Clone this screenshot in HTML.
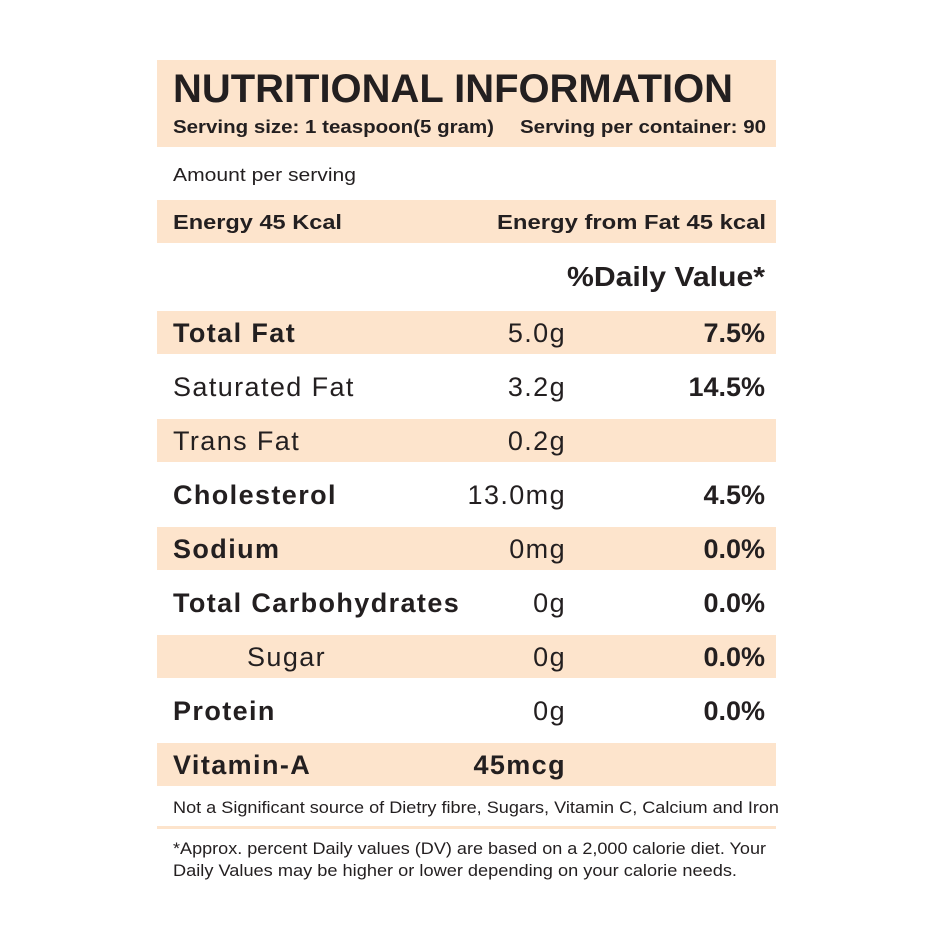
<!DOCTYPE html>
<html><head><meta charset="utf-8"><style>
html,body{margin:0;padding:0;background:#fff;width:940px;height:940px;overflow:hidden}
svg{display:block}
text{font-family:"Liberation Sans",sans-serif;fill:#231f20}
.b{font-weight:bold}
</style></head><body>
<svg id="chart" width="940" height="940" viewBox="0 0 940 940" xmlns="http://www.w3.org/2000/svg">
<rect x="157" y="60" width="619" height="87" fill="#fde4cc"/>
<text class="b" x="173" y="102" font-size="40" textLength="560" lengthAdjust="spacingAndGlyphs">NUTRITIONAL INFORMATION</text>
<text class="b" x="173" y="133" font-size="18" textLength="321" lengthAdjust="spacingAndGlyphs">Serving size: 1 teaspoon(5 gram)</text>
<text class="b" x="520" y="133" font-size="18" textLength="246" lengthAdjust="spacingAndGlyphs">Serving per container: 90</text>
<text x="173" y="181" font-size="18" textLength="183" lengthAdjust="spacingAndGlyphs">Amount per serving</text>
<rect x="157" y="200" width="619" height="43" fill="#fde4cc"/>
<text class="b" x="173" y="229" font-size="20" textLength="169" lengthAdjust="spacingAndGlyphs">Energy 45 Kcal</text>
<text class="b" x="497" y="229" font-size="20" textLength="269" lengthAdjust="spacingAndGlyphs">Energy from Fat 45 kcal</text>
<text class="b" x="567" y="286" font-size="28" textLength="198" lengthAdjust="spacingAndGlyphs">%Daily Value*</text>
<g id="rows"></g>
<text x="173" y="813" font-size="16.5" textLength="606" lengthAdjust="spacingAndGlyphs">Not a Significant source of Dietry fibre, Sugars, Vitamin C, Calcium and Iron</text>
<rect x="157" y="826" width="619" height="3" fill="#fde4cc"/>
<text x="173" y="854" font-size="16.5" textLength="593" lengthAdjust="spacingAndGlyphs">*Approx. percent Daily values (DV) are based on a 2,000 calorie diet. Your</text>
<text x="173" y="876" font-size="16.5" textLength="564" lengthAdjust="spacingAndGlyphs">Daily Values may be higher or lower depending on your calorie needs.</text>
</svg>
<script>
const nutrients=["Total Fat","Saturated Fat","Trans Fat","Cholesterol","Sodium","Total Carbohydrates","Sugar","Protein","Vitamin-A"];
const amounts=["5.0g","3.2g","0.2g","13.0mg","0mg","0g","0g","0g","45mcg"];
const percents=["7.5%","14.5%","","4.5%","0.0%","0.0%","0.0%","0.0%",""];
const boldNames=[true,false,false,true,true,true,false,true,true];
const indents=[0,0,0,0,0,0,1,0,0];
const NS="http://www.w3.org/2000/svg";
const g=document.getElementById('rows');
function rowY(i){return 311+54*i;}
function mk(tag,attrs,txt){const e=document.createElementNS(NS,tag);for(const k in attrs)e.setAttribute(k,attrs[k]);if(txt!=null)e.textContent=txt;g.appendChild(e);return e;}
nutrients.forEach((n,i)=>{
  const y=rowY(i);
  if(i%2===0){
    const r=mk('rect',{x:157,y:y,width:619,height:43,fill:'#fde4cc'});
    
    
  }
  const t=mk('text',{x:173+indents[i]*74,y:y+31,'font-size':27,'letter-spacing':1.4,'font-weight':boldNames[i]?'bold':'normal'},n);
  
  
  const a=mk('text',{x:566,y:y+31,'font-size':27,'letter-spacing':1.4,'text-anchor':'end','font-weight':i===8?'bold':'normal'},amounts[i]);
  
  
  if(percents[i]){
    const p=mk('text',{x:765,y:y+31,'font-size':27,'text-anchor':'end','font-weight':'bold'},percents[i]);
    
    
  }
});
</script>
</body></html>
